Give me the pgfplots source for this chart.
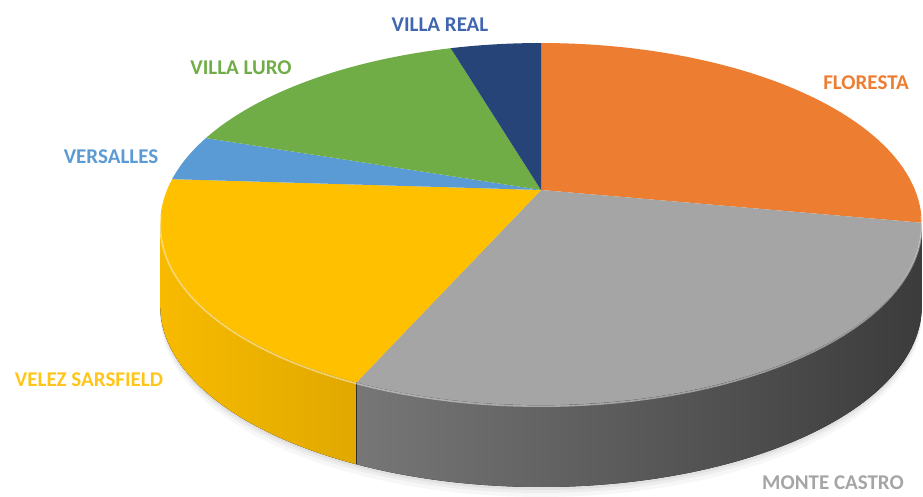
\documentclass[border=0pt]{standalone}
\usepackage{pgfplots}
\pgfplotsset{compat=1.18}
\usepackage{pgfplotstable}
\usepackage{fontspec}
\setmainfont{Carlito}

\definecolor{cFlo}{HTML}{ED7D31}
\definecolor{cMon}{HTML}{A5A5A5}
\definecolor{cVel}{HTML}{FFC000}
\definecolor{cVer}{HTML}{5B9BD5}
\definecolor{cLur}{HTML}{70AD47}
\definecolor{cRea}{HTML}{264478}
\definecolor{lRea}{HTML}{4066B0}

% share of each barrio, clockwise from 12 o'clock
\pgfplotstableread{
name value
Floresta 27.9
MonteCastro 28.8
VelezSarsfield 19.3
Versalles 4.1
VillaLuro 15.3
VillaReal 4.6
}\pietable

% projected rim of the pie (perspective view of a tilted disc)
\pgfmathdeclarefunction{px}{1}{\pgfmathparse{541+374*cos(#1)/(1+0.188*sin(#1))}}
\pgfmathdeclarefunction{py}{1}{\pgfmathparse{302+174.6*sin(#1)/(1+0.188*sin(#1))}}
\def\pieH{82}

\newcommand\topslice[3]{%
  \fill[#3] (axis cs:541,302) -- plot[domain=#2:#1, samples=80, variable=\t]
    ({px(\t)},{py(\t)}) -- cycle;}
% side of a slice, only the front part (-169.2 .. -10.8) is visible
\newcommand\sideslice[4]{%
  \pgfmathsetmacro\slo{max(#2,-169.2)}%
  \pgfmathsetmacro\shi{min(#1,-10.8)}%
  \pgfmathparse{\shi>\slo ? 1 : 0}%
  \ifnum\pgfmathresult=1
    \fill[left color=#3, right color=#4]
      plot[domain=\slo:\shi, samples=80, variable=\t] ({px(\t)},{py(\t)})
      -- plot[domain=\shi:\slo, samples=80, variable=\t] ({px(\t)},{py(\t)-\pieH})
      -- cycle;
  \fi}

\begin{document}
\begin{tikzpicture}
\pgfmathsetmacro\aO{90}
\pgfplotstablegetelem{0}{value}\of\pietable\pgfmathsetmacro\aI{\aO-3.6*\pgfplotsretval}
\pgfplotstablegetelem{1}{value}\of\pietable\pgfmathsetmacro\aII{\aI-3.6*\pgfplotsretval}
\pgfplotstablegetelem{2}{value}\of\pietable\pgfmathsetmacro\aIII{\aII-3.6*\pgfplotsretval}
\pgfplotstablegetelem{3}{value}\of\pietable\pgfmathsetmacro\aIV{\aIII-3.6*\pgfplotsretval}
\pgfplotstablegetelem{4}{value}\of\pietable\pgfmathsetmacro\aV{\aIV-3.6*\pgfplotsretval}
\pgfplotstablegetelem{5}{value}\of\pietable\pgfmathsetmacro\aVI{\aV-3.6*\pgfplotsretval}
\begin{axis}[
    x=1pt, y=1pt,
    xmin=0, xmax=923, ymin=0, ymax=492,
    hide axis, clip=false,
]
\path (axis cs:0,0) rectangle (axis cs:923,492);
\pgfplotsextra{%
  % soft shadow
  \foreach \s/\o in {10/0.03,6/0.04,3/0.05}{
    \fill[black, opacity=\o]
      plot[domain=-180:0, samples=60, variable=\t] ({px(\t)},{py(\t)-\pieH-\s})
      -- cycle;
  }
  % sides
  \sideslice{\aO}{\aI}{cFlo!80!black}{cFlo!60!black}
  \sideslice{\aI}{\aII}{cMon!72!black}{cMon!36!black}
  \sideslice{\aII}{\aIII}{cVel!97!black}{cVel!88!black}
  \sideslice{\aIII}{\aIV}{cVer!80!black}{cVer!60!black}
  \sideslice{\aIV}{\aV}{cLur!80!black}{cLur!60!black}
  \sideslice{\aV}{\aVI}{cRea!80!black}{cRea!60!black}
  % tops
  \topslice{\aO}{\aI}{cFlo}
  \topslice{\aI}{\aII}{cMon}
  \topslice{\aII}{\aIII}{cVel}
  \topslice{\aIII}{\aIV}{cVer}
  \topslice{\aIV}{\aV}{cLur}
  \topslice{\aV}{\aVI}{cRea}
  % light rim on the front edge
  \draw[white, opacity=0.45, line width=1.6pt]
    plot[domain=-172:-8, samples=80, variable=\t] ({px(\t)},{py(\t)-1.2});
}
\begin{scope}[font=\fontsize{21}{24}\selectfont\bfseries]
\node[text=lRea] at (axis cs:440,467) {VILLA REAL};
\node[text=cLur] at (axis cs:241,424) {VILLA LURO};
\node[text=cVer] at (axis cs:111,335) {VERSALLES};
\node[text=cFlo] at (axis cs:866,409) {FLORESTA};
\node[text=cVel!90!white] at (axis cs:89,112) {VELEZ SARSFIELD};
\node[text=cMon] at (axis cs:833,9) {MONTE CASTRO};
\end{scope}
\end{axis}
\end{tikzpicture}
\end{document}
